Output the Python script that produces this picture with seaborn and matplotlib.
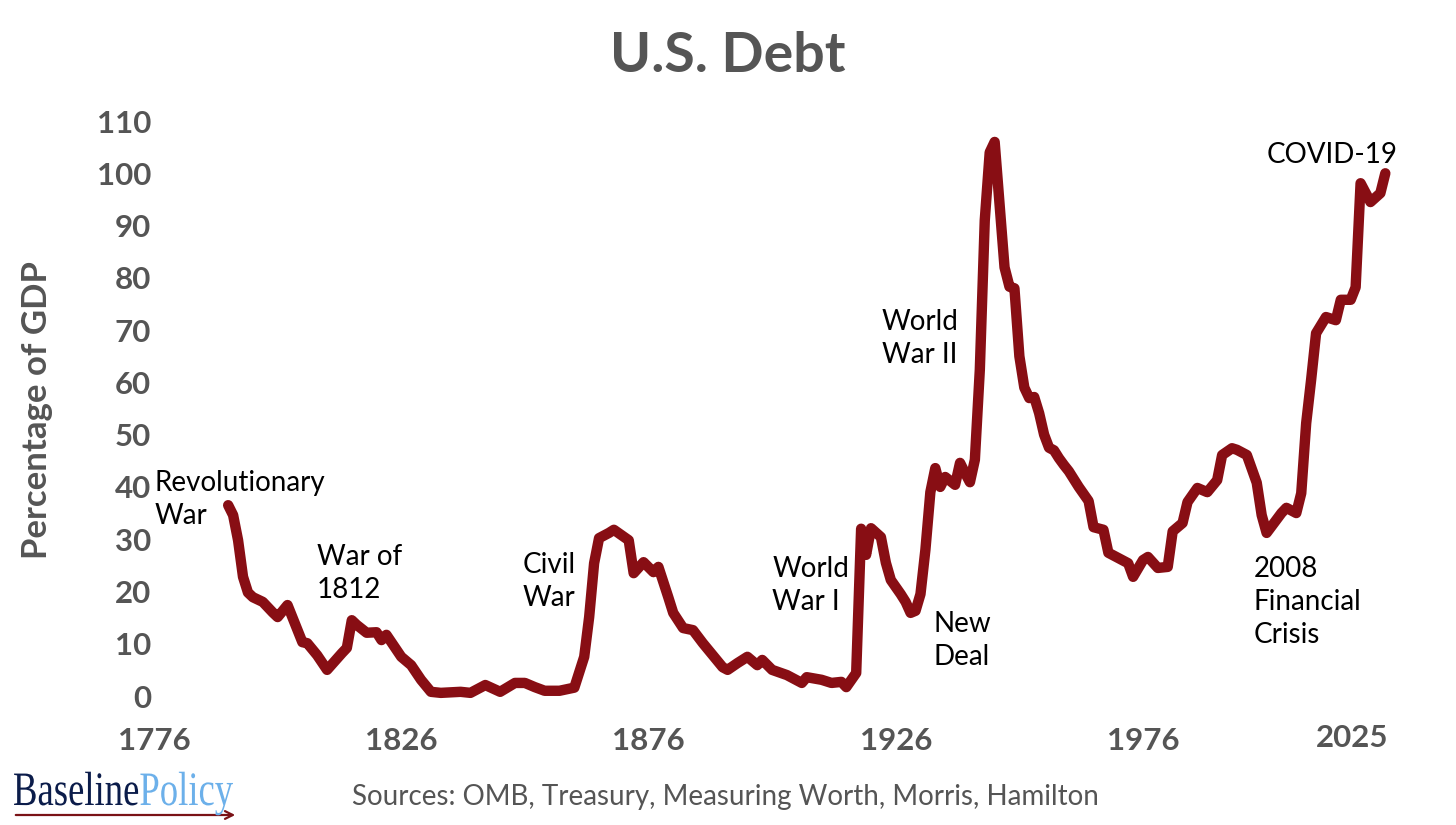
import numpy as np
import pandas as pd
import matplotlib
matplotlib.use("Agg")
import matplotlib.pyplot as plt
import seaborn as sns
from matplotlib.textpath import TextPath
from matplotlib.patches import PathPatch, FancyArrowPatch
from matplotlib.font_manager import FontProperties
from matplotlib.transforms import Affine2D, IdentityTransform, blended_transform_factory

# Federal debt held by the public, % of GDP
years = [1791, 1792, 1793, 1794, 1795, 1796, 1798, 1800, 1801, 1803,
         1806, 1807, 1809, 1811, 1814, 1815, 1816, 1817, 1819, 1821,
         1822, 1823, 1826, 1828, 1830, 1832, 1834, 1838, 1840, 1843,
         1846, 1849, 1851, 1853, 1855, 1858, 1861, 1863, 1864, 1865,
         1866, 1868, 1869, 1872, 1873, 1875, 1877, 1878, 1880, 1881,
         1883, 1885, 1887, 1889, 1891, 1892, 1894, 1896, 1898, 1899,
         1901, 1904, 1907, 1908, 1911, 1913, 1915, 1916, 1918, 1919,
         1920, 1921, 1923, 1924, 1925, 1927, 1928, 1929, 1930, 1931,
         1932, 1933, 1934, 1935, 1936, 1938, 1939, 1940, 1941, 1942,
         1943, 1944, 1945, 1946, 1947, 1948, 1949, 1950, 1951, 1952,
         1953, 1954, 1955, 1956, 1957, 1958, 1959, 1960, 1961, 1963,
         1965, 1966, 1968, 1969, 1971, 1973, 1974, 1976, 1977, 1979,
         1981, 1982, 1984, 1985, 1987, 1989, 1991, 1992, 1994, 1995,
         1997, 1999, 2000, 2001, 2004, 2005, 2007, 2008, 2009, 2010,
         2011, 2013, 2015, 2016, 2018, 2019, 2020, 2022, 2024, 2025]
debt = [36.5, 34.6, 29.8, 22.8, 19.8, 18.9, 18.0, 16.0, 15.1, 17.4,
        10.3, 10.1, 7.8, 5.0, 8.2, 9.2, 14.5, 13.6, 12.1, 12.2,
        10.7, 11.7, 7.5, 5.9, 3.1, 0.8, 0.6, 0.8, 0.6, 2.1,
        0.8, 2.5, 2.5, 1.7, 1.0, 1.0, 1.6, 7.5, 15.1, 25.4,
        30.2, 31.2, 31.8, 29.8, 23.5, 25.6, 23.7, 24.7, 18.9, 15.9,
        13.0, 12.6, 10.1, 7.8, 5.5, 5.0, 6.3, 7.5, 5.9, 6.9,
        5.0, 4.0, 2.5, 3.6, 3.1, 2.5, 2.7, 1.7, 4.4, 32.0,
        27.0, 32.1, 30.4, 25.5, 22.2, 19.5, 18.0, 15.9, 16.3, 19.5,
        28.0, 39.0, 43.6, 40.0, 41.9, 40.4, 44.6, 42.7, 40.9, 45.2,
        62.4, 91.0, 104.0, 106.0, 94.0, 82.0, 78.3, 78.0, 65.0, 59.0,
        57.0, 57.2, 54.1, 50.0, 47.5, 47.0, 45.5, 44.2, 43.0, 40.0,
        37.3, 32.3, 31.8, 27.4, 26.4, 25.4, 22.8, 26.0, 26.6, 24.5,
        24.7, 31.5, 33.1, 37.1, 39.8, 39.0, 41.3, 46.1, 47.4, 47.1,
        46.1, 40.8, 34.6, 31.2, 35.0, 36.0, 35.0, 38.8, 52.2, 60.5,
        69.4, 72.5, 71.9, 75.8, 75.8, 78.2, 98.1, 94.5, 96.2, 100.0]

x_ticks = [1776, 1826, 1876, 1926, 1976]
y_ticks = list(range(0, 111, 10))

events = ["Revolutionary\nWar", "War of\n1812", "Civil\nWar", "World\nWar I",
          "New\nDeal", "World\nWar II", "2008\nFinancial\nCrisis", "COVID-19"]
# left edge and baseline of the last line of each note
event_x = [1776.2, 1809.0, 1850.6, 1901.0, 1933.7, 1923.2, 1998.4, 2001.1]
event_y = [32.9, 18.7, 17.2, 16.5, 5.9, 63.7, 10.1, 102.0]

df = pd.DataFrame({"year": years, "debt": debt})

W, H = 1456, 825
GRAY = "#555555"
RED = "#880E14"

sns.set_theme(style="white")
plt.rcParams["font.family"] = ["Lato", "DejaVu Sans"]

fig = plt.figure(figsize=(W / 100, H / 100), dpi=100)
# axes box in pixels: left 151, right 1400, top 110, bottom 710
ax = fig.add_axes([151 / W, (H - 710) / H, (1400 - 151) / W, 600 / H])

sns.lineplot(data=df, x="year", y="debt", ax=ax, color=RED, linewidth=7.5,
             solid_capstyle="round", solid_joinstyle="round")

px_per_year = 4.945
px_per_unit = 5.227
ax.set_xlim(1776 - 3 / px_per_year, 1776 + (1400 - 154) / px_per_year)
ax.set_ylim((696 - 710) / px_per_unit, (696 - 110) / px_per_unit)

ax.set_xticks(x_ticks)
ax.set_xticklabels([str(t) for t in x_ticks])
ax.set_yticks(y_ticks)
ax.set_yticklabels([str(t) for t in y_ticks])
ax.tick_params(axis="both", length=0, labelsize=22.5, labelcolor=GRAY)
ax.tick_params(axis="x", pad=12)
ax.tick_params(axis="y", pad=0)
for lab in ax.get_xticklabels() + ax.get_yticklabels():
    lab.set_fontweight("bold")
ax.set_xlabel("")
ax.set_ylabel("")
sns.despine(ax=ax, left=True, bottom=True)

# last axis label sits on its own, like in the source chart
trans = blended_transform_factory(ax.transData, ax.transAxes)
ax.text(2018.3, -0.046, "2025", transform=trans, ha="center", va="center",
        fontsize=22.5, fontweight="bold", color=GRAY, clip_on=False)

for label, ex, ey in zip(events, event_x, event_y):
    ax.text(ex, ey, label, ha="left", va="baseline", fontsize=20,
            color="black", linespacing=1.33)

fig.text(0.5, 1 - 72 / H, "U.S. Debt", ha="center", va="baseline",
         fontsize=40, fontweight="bold", color=GRAY)
fig.text(37 / W, 1 - 410 / H, "Percentage of GDP", rotation=90,
         ha="center", va="center", fontsize=25, fontweight="bold", color=GRAY)
fig.text(352 / W, 1 - 805 / H,
         "Sources: OMB, Treasury, Measuring Worth, Morris, Hamilton",
         ha="left", va="baseline", fontsize=20, color=GRAY)

# logo
arrow = FancyArrowPatch((13, 10), (238, 10), arrowstyle="->", mutation_scale=14,
                        lw=1.6, color="#7a1216", transform=IdentityTransform())
fig.add_artist(arrow)
fp = FontProperties(family="Liberation Serif")
full = TextPath((0, 0), "BaselinePolicy", size=48, prop=fp)
base = TextPath((0, 0), "Baseline", size=48, prop=fp)
pol = TextPath((0, 0), "Policy", size=48, prop=fp)
sx = 220 / full.get_extents().xmax
offset = full.get_extents().xmax - pol.get_extents().xmax
t_base = Affine2D().scale(sx, 1).translate(13, H - 805)
t_pol = Affine2D().translate(offset, 0).scale(sx, 1).translate(13, H - 805)
fig.add_artist(PathPatch(base, transform=t_base, color="#0b1c4a", lw=0))
fig.add_artist(PathPatch(pol, transform=t_pol, color="#6cb0ea", lw=0))

fig.savefig("out.png", dpi=100, facecolor="white")
